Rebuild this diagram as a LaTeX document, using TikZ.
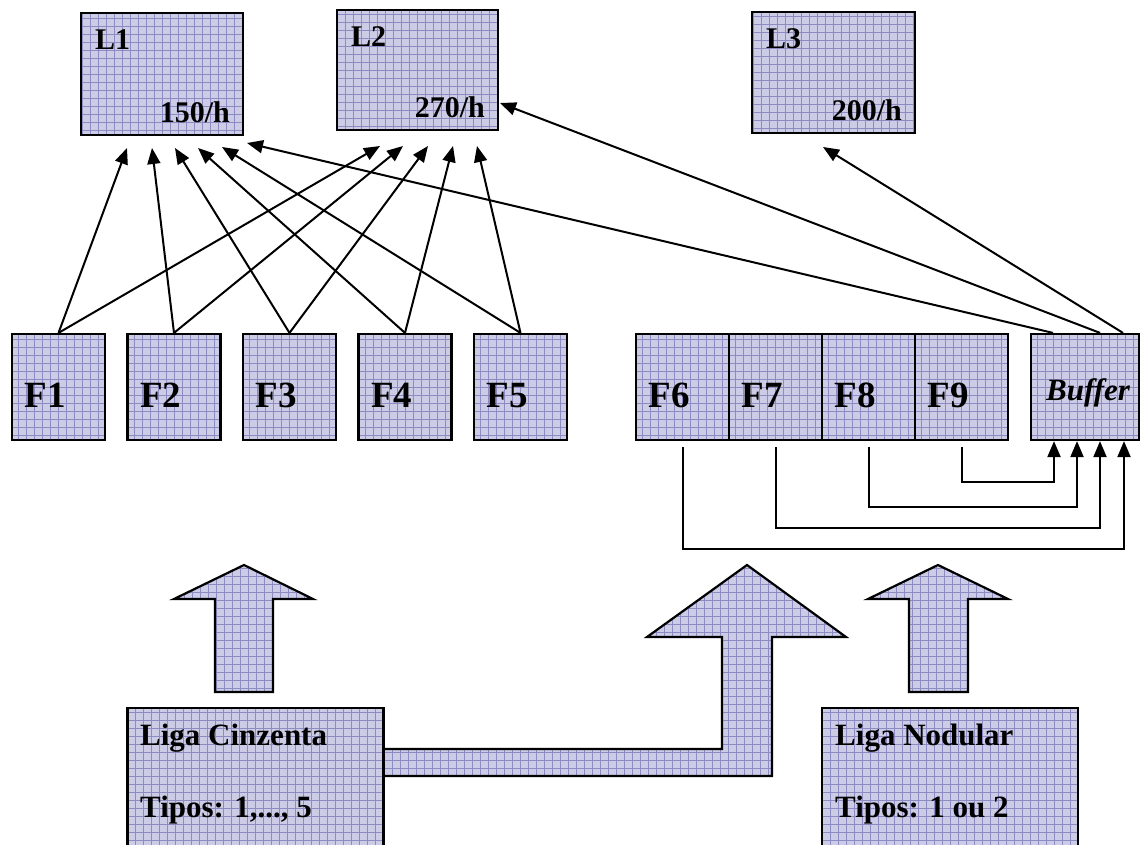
\documentclass[tikz,border=0pt]{standalone}
\usepackage{fontspec}
\setmainfont{Liberation Serif}
\usetikzlibrary{arrows.meta}
\definecolor{lav}{RGB}{204,204,230}
\definecolor{gridc}{RGB}{140,140,194}
\tikzset{
  tex/.style={fill=lav, path picture={\draw[gridc, line width=0.55pt, step=8pt]
      (path picture bounding box.south west) grid (path picture bounding box.north east);}},
  box/.style={rectangle, draw, line width=2.2pt, tex, inner sep=0pt},
  blockarrow/.style={draw, line width=2.2pt, tex, line join=miter},
  conn/.style={line width=2pt, -{Triangle[length=16pt,width=13pt]}},
  llab/.style={font=\fontsize{30}{30}\selectfont\bfseries, inner sep=0pt},
  flab/.style={font=\fontsize{37}{37}\selectfont\bfseries, inner sep=0pt, anchor=base west},
  glab/.style={font=\fontsize{31}{31}\selectfont\bfseries, inner sep=0pt, anchor=base west},
}
\begin{document}
\begin{tikzpicture}[x=1pt,y=-1pt]
\clip (0,0) rectangle (1142,845);

% production lines
\node[box, minimum width=162pt, minimum height=122pt] (L1) at (162,74) {};
\node[box, minimum width=161pt, minimum height=120pt] (L2) at (417.5,70) {};
\node[box, minimum width=163pt, minimum height=121pt] (L3) at (833.5,72.5) {};
\node[llab, anchor=base west] (L1n) at (95,50) {L1};
\node[llab, anchor=base east] (L1r) at (230,123) {150/h};
\node[llab, anchor=base west] (L2n) at (351,47) {L2};
\node[llab, anchor=base east] (L2r) at (485,118) {270/h};
\node[llab, anchor=base west] (L3n) at (766,49) {L3};
\node[llab, anchor=base east] (L3r) at (902,121) {200/h};

% furnaces
\foreach \n/\x in {1/58.5, 2/174, 3/289.5, 4/405, 5/520.5, 6/682.5, 7/775.5, 8/868.5, 9/961.5}{
  \node[box, minimum width=93pt, minimum height=106pt] (F\n) at (\x,387) {};
  \node[flab] (F\n t) at (\x-34,407) {F\n};
}
\node[box, minimum width=108pt, minimum height=106pt] (Bf) at (1085,387) {};
\node[font=\fontsize{31}{31}\selectfont\bfseries\itshape, inner sep=0pt, anchor=base] (Bft) at (1088,400) {Buffer};

% arrow ends below the lines
\coordinate (l1a) at (127,148);
\coordinate (l1b) at (152,148);
\coordinate (l1c) at (175,148);
\coordinate (l1d) at (198,148);
\coordinate (l1e) at (222,147);
\coordinate (l1f) at (247,143);
\coordinate (l2a) at (380,146);
\coordinate (l2b) at (403,146);
\coordinate (l2c) at (428,146);
\coordinate (l2d) at (453,146);
\coordinate (l2e) at (477,146);
\coordinate (l2f) at (500,103);
\coordinate (l3a) at (823,147);

\draw[conn] (F1.north) -- (l1a);
\draw[conn] (F2.north) -- (l1b);
\draw[conn] (F3.north) -- (l1c);
\draw[conn] (F4.north) -- (l1d);
\draw[conn] (F5.north) -- (l1e);
\draw[conn] (F1.north) -- (l2a);
\draw[conn] (F2.north) -- (l2b);
\draw[conn] (F3.north) -- (l2c);
\draw[conn] (F4.north) -- (l2d);
\draw[conn] (F5.north) -- (l2e);
\draw[conn] ([xshift=-32pt]Bf.north) -- (l1f);
\draw[conn] ([xshift=15pt]Bf.north) -- (l2f);
\draw[conn] ([xshift=38pt]Bf.north) -- (l3a);

% transfers into the buffer
\coordinate (b9) at ([xshift=-31pt]Bf.south);
\coordinate (b8) at ([xshift=-8pt]Bf.south);
\coordinate (b7) at ([xshift=15pt]Bf.south);
\coordinate (b6) at ([xshift=39pt]Bf.south);
\coordinate (h9) at (0,482);
\coordinate (h8) at (0,507);
\coordinate (h7) at (0,528);
\coordinate (h6) at (0,549);
\draw[conn] ([yshift=-6pt]F9.south) |- (h9 -| b9) -- (b9);
\draw[conn] ([yshift=-6pt]F8.south) |- (h8 -| b8) -- (b8);
\draw[conn] ([yshift=-6pt]F7.south) |- (h7 -| b7) -- (b7);
\draw[conn] ([yshift=-6pt]F6.south) |- (h6 -| b6) -- (b6);

% block arrows
\draw[blockarrow] (215,692) -- (215,599) -- (174,599) -- (244,565) -- (313,599) -- (273,599) -- (273,692) -- cycle;
\draw[blockarrow] (909,692) -- (909,599) -- (868,599) -- (938,565) -- (1008,599) -- (968,599) -- (968,692) -- cycle;
\draw[blockarrow] (380,749) -- (722,749) -- (722,637) -- (647,637) -- (747,565) -- (846,637) -- (772,637) -- (772,776) -- (380,776) -- cycle;

% alloys
\node[box, minimum width=256pt, minimum height=152pt] (LC) at (255.5,784) {};
\node[box, minimum width=256pt, minimum height=152pt] (LN) at (950,784) {};
\node[glab] (LCa) at (140,745) {Liga Cinzenta};
\node[glab] (LCb) at (140,817) {Tipos: 1,..., 5};
\node[glab] (LNa) at (835,745) {Liga Nodular};
\node[glab] (LNb) at (835,817) {Tipos: 1 ou 2};
\end{tikzpicture}
\end{document}
